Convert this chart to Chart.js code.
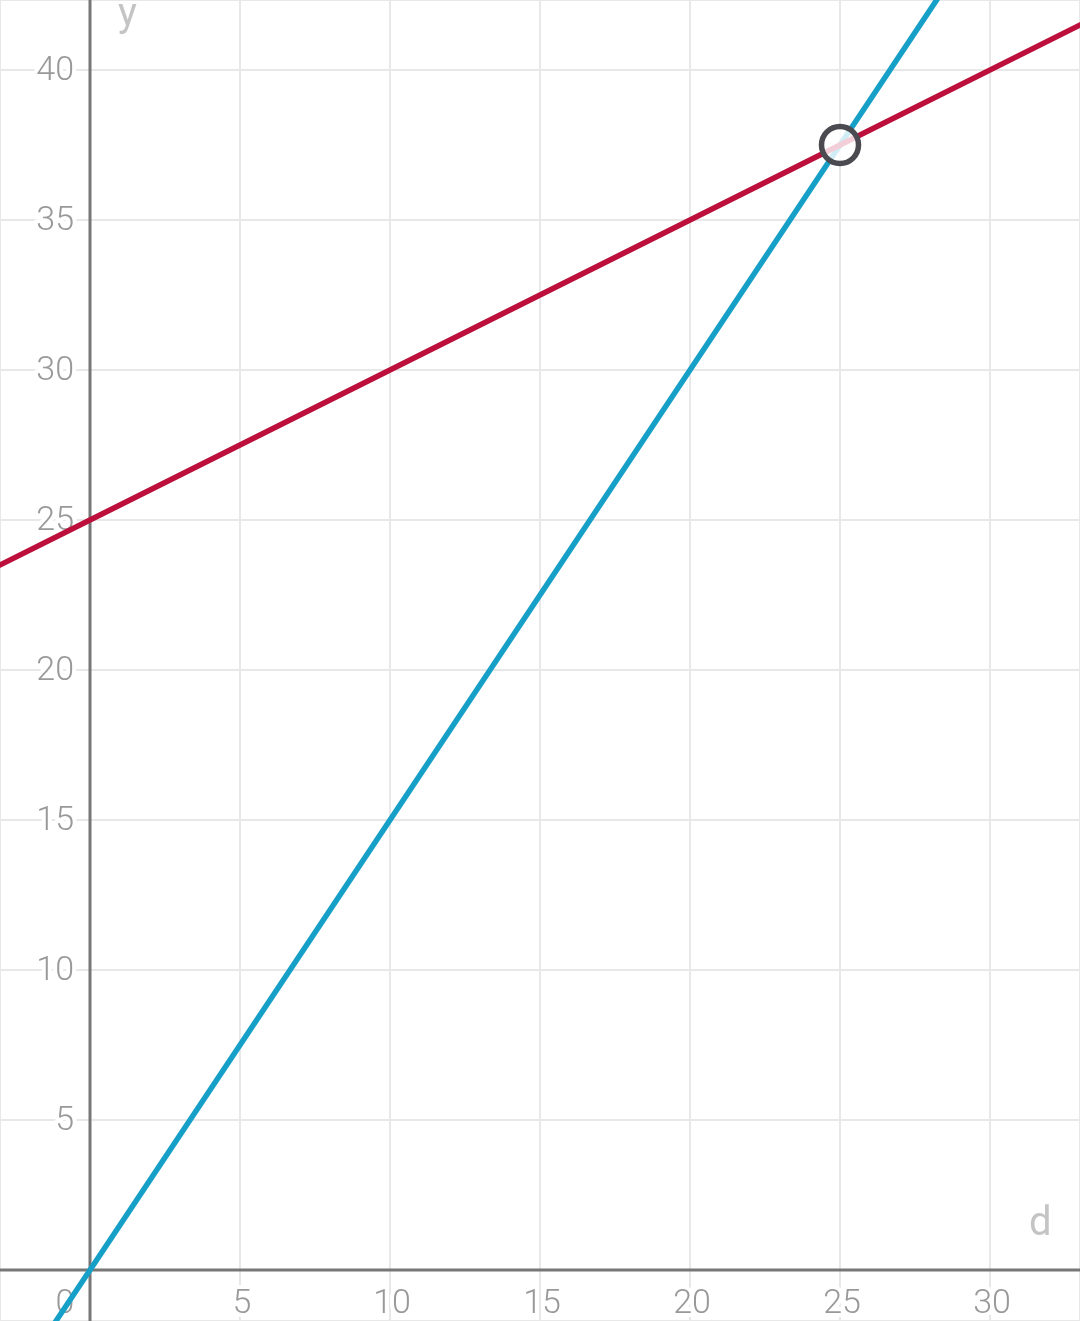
<!DOCTYPE html>
<html>
<head>
<meta charset="utf-8">
<script src="https://cdn.jsdelivr.net/npm/chart.js@4"></script>
<style>
  html, body { margin: 0; padding: 0; background: #fff; }
  #wrap { width: 1080px; height: 1321px; }
</style>
</head>
<body>
<div id="wrap"><canvas id="chart"></canvas></div>
<script>
// line endpoints
const dValues = [-4, 0, 25, 34]
const redY = [23, 25, 37.5, 42]
const blueY = [-6, 0, 37.5, 51]
const meet = { d: 25, y: 37.5 }

const xTicks = [5, 10, 15, 20, 25, 30]
const yTicks = [5, 10, 15, 20, 25, 30, 35, 40]

const LABEL_COLOR = '#999'
const FONT = '300 34px Roboto'

// axes, tick labels and axis names, drawn Desmos-style between grid and lines
const desmosAxes = {
  id: 'desmosAxes',
  beforeDatasetsDraw(chart) {
    const { ctx, chartArea, scales } = chart
    const x = scales.x, y = scales.y
    const x0 = x.getPixelForValue(0)
    const y0 = y.getPixelForValue(0)

    ctx.save()
    ctx.font = FONT
    ctx.lineJoin = 'round'
    ctx.lineWidth = 8
    ctx.strokeStyle = '#fff'
    ctx.fillStyle = LABEL_COLOR

    ctx.textAlign = 'right'
    ctx.textBaseline = 'middle'
    yTicks.forEach(v => {
      const py = y.getPixelForValue(v)
      ctx.strokeText(String(v), x0 - 16, py + 2)
      ctx.fillText(String(v), x0 - 16, py + 2)
    })

    ctx.textAlign = 'center'
    ctx.textBaseline = 'top'
    xTicks.forEach(v => {
      const px = x.getPixelForValue(v)
      ctx.strokeText(String(v), px + 2, y0 + 18)
      ctx.fillText(String(v), px + 2, y0 + 18)
    })
    ctx.strokeText('0', x0 - 25, y0 + 18)
    ctx.fillText('0', x0 - 25, y0 + 18)

    // axis lines
    ctx.strokeStyle = '#777'
    ctx.lineWidth = 3
    ctx.beginPath()
    ctx.moveTo(x0, chartArea.top)
    ctx.lineTo(x0, chartArea.bottom)
    ctx.moveTo(chartArea.left, y0)
    ctx.lineTo(chartArea.right, y0)
    ctx.stroke()

    // axis names
    ctx.font = '40px Roboto'
    ctx.fillStyle = '#c4c4c4'
    ctx.textAlign = 'left'
    ctx.textBaseline = 'middle'
    ctx.fillText('y', x0 + 28, 16)
    ctx.fillText('d', x.getPixelForValue(31.3), y0 - 45)
    ctx.restore()
  }
}

const config = {
  type: 'scatter',
  data: {
    datasets: [
      {
        label: 'red',
        data: dValues.map((d, i) => ({ x: d, y: redY[i] })),
        showLine: true,
        borderColor: '#bd0f3c',
        borderWidth: 5.5,
        pointRadius: 0
      },
      {
        label: 'blue',
        data: dValues.map((d, i) => ({ x: d, y: blueY[i] })),
        showLine: true,
        borderColor: '#169fc7',
        borderWidth: 5.5,
        pointRadius: 0
      },
      {
        label: 'intersection',
        order: -1, // drawn on top of both lines
        data: [{ x: meet.d, y: meet.y }],
        pointRadius: 18.5,
        borderWidth: 5.5,
        borderColor: '#4a4a50',
        backgroundColor: 'rgba(255, 255, 255, 0.8)'
      }
    ]
  },
  options: {
    responsive: true,
    maintainAspectRatio: false,
    animation: false,
    layout: { padding: 0, autoPadding: false },
    plugins: {
      legend: { display: false },
      tooltip: { enabled: false }
    },
    scales: {
      x: {
        type: 'linear',
        min: -3,
        max: 33,
        border: { display: false },
        ticks: { display: false, stepSize: 5 },
        grid: { color: '#e8e8e8', lineWidth: 2, drawTicks: false }
      },
      y: {
        type: 'linear',
        min: -1.7,
        max: 42.333,
        border: { display: false },
        ticks: { display: false, stepSize: 5 },
        grid: { color: '#e8e8e8', lineWidth: 2, drawTicks: false }
      }
    }
  },
  plugins: [desmosAxes]
}

new Chart(document.getElementById('chart'), config)
</script>
</body>
</html>
